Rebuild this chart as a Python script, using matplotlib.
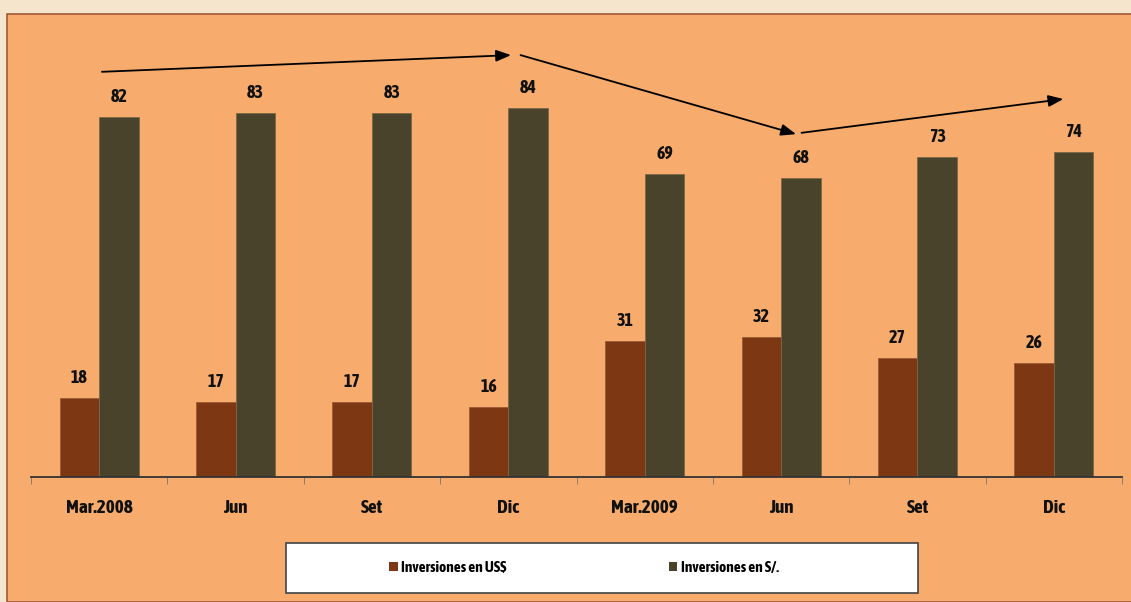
import numpy as np
import matplotlib
matplotlib.use("Agg")
import matplotlib.pyplot as plt
from matplotlib import font_manager
from matplotlib.patches import Rectangle, Patch

# ─── Datos ───────────────────────────────────────────────
periodos = ["Mar.2008", "Jun", "Set", "Dic", "Mar.2009", "Jun", "Set", "Dic"]
inv_usd = [18, 17, 17, 16, 31, 32, 27, 26]
inv_soles = [82, 83, 83, 84, 69, 68, 73, 74]

# flechas de tendencia (x en índice de categoría, y en %)
flechas = [((0.02, 92.3), (3.02, 96.1)),
           ((3.09, 96.1), (5.11, 78.1)),
           ((5.15, 78.4), (7.07, 86.1))]

C_USD = "#7E3713"
C_SOL = "#4A432C"
C_PANEL = "#F7AB6D"
C_FONDO = "#F6E5CD"

# fuente estrecha (negrita, recta) si hay alguna instalada
fuentes = font_manager.fontManager.ttflist
def _peso(f):
    w = f.weight
    if isinstance(w, str):
        w = {"bold": 700, "heavy": 800, "black": 900, "semibold": 600,
             "demibold": 600}.get(w, 400)
    return w
estrecha = sorted({f.name for f in fuentes
                   if ("Narrow" in f.name or "Condensed" in f.name
                       or f.stretch in ("condensed", "semi-condensed"))
                   and _peso(f) >= 600 and f.style == "normal"})
estrecha.sort(key=lambda n: (0 if "Liberation" in n else 1, n))
if estrecha:
    plt.rcParams["font.family"] = [estrecha[0], "Liberation Sans", "DejaVu Sans"]
    FS_VAL, FS_CAT, FS_LEG, COLSP, LEG_X = 13, 13.8, 11, 10.6, 584
else:
    plt.rcParams["font.family"] = ["Liberation Sans", "DejaVu Sans"]
    FS_VAL, FS_CAT, FS_LEG, COLSP, LEG_X = 11.5, 11, 9, 10, 612
plt.rcParams["font.style"] = "normal"

W, H = 1131, 602
fig = plt.figure(figsize=(W / 100, H / 100), dpi=100, facecolor=C_FONDO)

# panel naranja con borde
fig.patches.append(Rectangle((7 / W, 0), 1.2, 1 - 14 / H, transform=fig.transFigure,
                             facecolor=C_PANEL, edgecolor="#A4583A", lw=1.2, zorder=0))

ax = fig.add_axes([31 / W, (H - 477) / H, (1122 - 31) / W, 439 / H])
ax.set_facecolor("none")
ax.set_zorder(3)

x = np.arange(len(periodos))
w = 0.29
b1 = ax.bar(x - w / 2, inv_usd, w, color=C_USD, edgecolor="#9A5A35", lw=0.6)
b2 = ax.bar(x + w / 2, inv_soles, w, color=C_SOL, edgecolor="#7A6A45", lw=0.6)

for bars, vals in ((b1, inv_usd), (b2, inv_soles)):
    for r, v in zip(bars, vals):
        ax.annotate(str(v), (r.get_x() + r.get_width() / 2, v), xytext=(0, 11),
                    textcoords="offset pixels", ha="center", va="bottom",
                    fontsize=FS_VAL, fontweight="bold", color="#111111")

for (x0, y0), (x1, y1) in flechas:
    ax.annotate("", xy=(x1, y1), xytext=(x0, y0),
                arrowprops=dict(arrowstyle="-|>,head_length=0.9,head_width=0.35",
                                color="black", lw=1.3, shrinkA=0, shrinkB=0))

ax.set_xlim(-0.5, 7.5)
ax.set_ylim(0, 100)
ax.set_xticks(x)
ax.set_xticklabels(periodos, fontsize=FS_CAT, fontweight="bold", color="#111111")
ax.set_xticks(np.arange(-0.5, 8, 1), minor=True)
ax.tick_params(axis="x", which="major", length=0, pad=16)
ax.tick_params(axis="x", which="minor", length=5, color="#777777", direction="out")
ax.set_yticks([])
for s in ("top", "right", "left"):
    ax.spines[s].set_visible(False)
ax.spines["bottom"].set_color("#333333")
ax.spines["bottom"].set_linewidth(1.3)

# caja de leyenda
fig.patches.append(Rectangle((286 / W, (H - 593) / H), 632 / W, 50 / H,
                             transform=fig.transFigure, facecolor="white",
                             edgecolor="#444444", lw=1.2, zorder=1))
handles = [Patch(facecolor=C_USD), Patch(facecolor=C_SOL)]
leg = fig.legend(handles, ["Inversiones en US$", "Inversiones en S/."], ncol=2,
                 loc="center", bbox_to_anchor=(LEG_X / W, (H - 568) / H), frameon=False,
                 prop=dict(weight="bold", size=FS_LEG), handlelength=0.55, handleheight=0.55,
                 handletextpad=0.25, columnspacing=COLSP)
leg.set_zorder(4)

fig.savefig("out.png", dpi=100, facecolor=C_FONDO)
